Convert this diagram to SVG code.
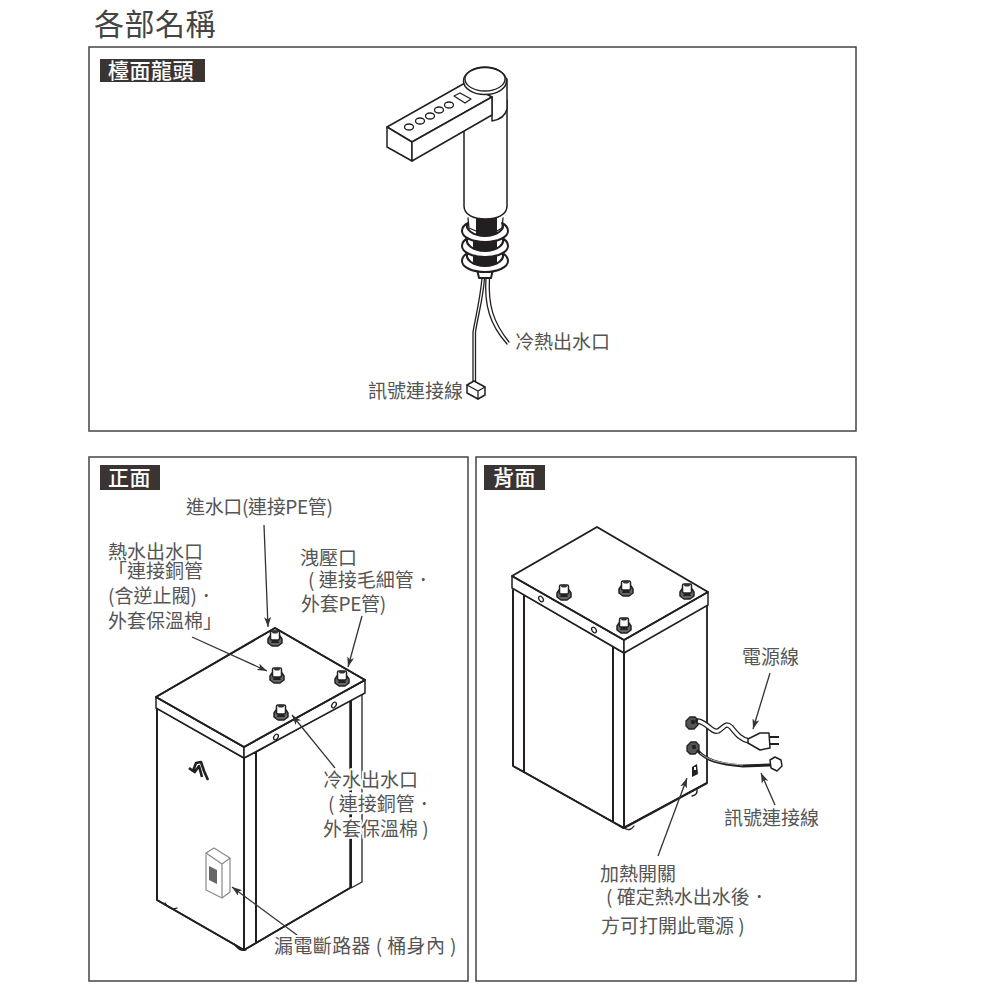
<svg xmlns="http://www.w3.org/2000/svg" xmlns:xlink="http://www.w3.org/1999/xlink" width="1000" height="1000" viewBox="0 0 1000 1000">
<style>
text{font-family:"Noto Sans CJK TC","Noto Sans CJK SC",sans-serif}
.t{font-size:19px;fill:#555}
.h{font-size:19px;fill:#555;paint-order:stroke;stroke:#fff;stroke-width:4px;stroke-linejoin:round}
.tag{font-size:21px;fill:#fff;font-weight:500;letter-spacing:.5px}
.panel{fill:#fff;stroke:#444;stroke-width:1.5}
.k{fill:#fff;stroke:#231f20;stroke-width:1.5;stroke-linejoin:round}
.l{fill:none;stroke:#231f20;stroke-width:1.3;stroke-linejoin:round;stroke-linecap:round}
.b{fill:none;stroke:#231f20;stroke-width:2;stroke-linejoin:round}
.g{fill:#fff;stroke:#888;stroke-width:1.2;stroke-linejoin:round}
.a{stroke:#333;stroke-width:1.3;fill:none;marker-end:url(#ah)}
.d{fill:#fff;stroke:#231f20;stroke-width:2;stroke-linejoin:round}
</style>
<defs>
<marker id="ah" markerWidth="10" markerHeight="7" refX="10" refY="3.500" orient="auto" markerUnits="userSpaceOnUse"><path d="M0 0L10 3.500L0 7L2.500 3.500Z" fill="#333"/></marker>
<g id="fit">
<path d="M-7 1L-5 -2L5 -2L7 1L7 5L3 8L-3 8L-7 5Z" fill="#666" stroke="#222" stroke-width="1.500" stroke-linejoin="round"/>
<path d="M-3 2L3 2L4 5L-4 5Z" fill="#222"/>
<rect x="-4.500" y="-7" width="9" height="9" rx="1.500" fill="#fff" stroke="#222" stroke-width="1.500"/>
<ellipse cx="0" cy="-6" rx="3" ry="1.500" fill="#333"/>
</g>
<g id="grommet">
<path d="M-6 -2L-2 -6L3 -6L6 -3L6 2L2 6L-3 6L-6 3Z" fill="#555" stroke="#222" stroke-width="1.300"/>
<circle cx="1" cy="-1" r="2.200" fill="#222"/>
</g>
<path id="disc" d="M-17 -9C-21 -7 -23 -4 -23 -1C-23 5 -13 10 0 10C13 10 23 5 23 -1C23 -4 21 -7 17 -9C21 -3 12 4 0 4C-12 4 -21 -3 -17 -9Z"/>
</defs>
<text id="title" x="94" y="35" style="font-size:30px;fill:#444;letter-spacing:.5px">各部名稱</text>

<g id="panel-faucet">
<rect class="panel" x="89" y="47" width="767" height="384"/>
<rect x="100" y="59" width="105" height="23" fill="#3a3533"/>
<text class="tag" x="108" y="78">檯面龍頭</text>
</g>
<g id="panel-front">
<rect class="panel" x="89" y="457" width="379" height="524"/>
<rect x="100" y="465" width="60" height="25" fill="#3a3533"/>
<text class="tag" x="108" y="485">正面</text>
</g>
<g id="panel-back">
<rect class="panel" x="476" y="457" width="380" height="524"/>
<rect x="484" y="465" width="61" height="25" fill="#3a3533"/>
<text class="tag" x="493" y="485">背面</text>
</g>

<g id="faucet">
<path class="l" d="M482 278C480 300 476 315 473 332L473 381"/>
<path class="l" d="M484.500 278C483 300 478 315 475.500 332L475.500 381"/>
<path class="l" d="M486 278C484 305 490 325 507 344"/>
<path class="l" d="M489.500 278C488 305 493 322 509 342"/>
<path class="k" d="M467 385L474 381L485 387L485 395L478 399L467 393Z"/>
<path class="l" d="M467 385L478 391L478 399M478 391L485 387"/>
<path d="M477 269L493 269L491 278L479 278Z" class="d"/>
<path d="M473 250L497 250L497 264C491 268 479 268 473 264Z" fill="#231f20"/>
<path d="M473 235L497 235L497 249C491 253 479 253 473 249Z" fill="#231f20"/>
<path d="M476 218L497 218L497 234C492 239 481 239 476 234Z" fill="#231f20"/>
<use xlink:href="#disc" href="#disc" class="d" x="485" y="262"/>
<use xlink:href="#disc" href="#disc" class="d" x="485" y="247"/>
<use xlink:href="#disc" href="#disc" class="d" x="485" y="232"/>
<path class="l" d="M468 218L469 228L476 231M503 218L502 228L497 231"/>
<path class="k" d="M464 125L464 206C464 215 474 219 485.500 219C497 219 507 215 507 206L507 100L464 100Z"/>
<path class="k" d="M465 90L492 97L492 121C498 120 505 117 507 109L507 79L470 79Z"/>
<path class="k" d="M387 127L465 83L492 97L412 142Z"/>
<path class="k" d="M387 127L387 147L412 161L412 142Z"/>
<path class="k" d="M412 142L492 97L492 115L412 161Z"/>
<ellipse class="l" cx="409" cy="127" rx="4.500" ry="3"/>
<ellipse class="l" cx="420" cy="121" rx="4.500" ry="3"/>
<ellipse class="l" cx="430" cy="116" rx="4.500" ry="3"/>
<ellipse class="l" cx="439" cy="110" rx="4.500" ry="3"/>
<ellipse class="l" cx="449" cy="105" rx="4.500" ry="3"/>
<path class="l" d="M454 96L460 93L471 99L465 103Z"/>
<ellipse class="k" cx="485" cy="81" rx="21.500" ry="13.500"/>
<ellipse class="l" cx="485" cy="79" rx="20" ry="12"/>
</g>

<g id="tank-front">
<path class="k" d="M157 708L157 900L244 950L244 758Z"/>
<path class="k" d="M256 752L256 943L350 888L350 700Z"/>
<path class="k" d="M244 758L244 950L256 943L256 752Z"/>
<path class="b" d="M157 708L157 900L244 950L256 943L350 888"/>
<path class="b" d="M244 758L244 950M256 752L256 943M351 700L351 888"/>
<path class="l" d="M351 888L362 882L362 694"/>
<path class="k" d="M156 697L156 708L244 758L244 747Z"/>
<path class="k" d="M244 747L244 758L365 693L365 680Z"/>
<path class="k" d="M156 697L275 628L365 680L244 747Z"/>
<path class="b" d="M156 697L275 628L365 680L244 747Z"/>
<ellipse class="l" cx="276" cy="737" rx="2" ry="3" transform="rotate(35 276 737)"/>
<ellipse class="l" cx="334" cy="705" rx="2" ry="3" transform="rotate(35 334 705)"/>
<path class="l" d="M165 903Q170 911 177 908M234 944Q240 952 246 950"/>
<use xlink:href="#fit" href="#fit" x="275" y="638"/>
<use xlink:href="#fit" href="#fit" x="277" y="675"/>
<use xlink:href="#fit" href="#fit" x="342" y="678"/>
<use xlink:href="#fit" href="#fit" x="281" y="712"/>
<path id="logo" d="M189 768L193 771L196 763L201 762L204 771L208 780M194 773L199 766L202 777" fill="none" stroke="#231f20" stroke-width="2.600" stroke-linejoin="round"/>
<path class="g" d="M206 853L214 848L230 858L230 892L222 898L206 890Z"/>
<path class="g" d="M206 853L222 864L222 898M222 864L230 858"/>
<path d="M209 866L217 870L217 884L209 880Z" fill="#666"/>
</g>

<g id="tank-back">
<path class="k" d="M513 588L513 766L524 772L613 822L623 828L707 783L707 600L624 653Z"/>
<path class="b" d="M524 595L524 772M613 640L613 822M624 653L624 828M513 590L513 766"/>
<path class="l" d="M707 604L707 783"/>
<path class="b" d="M513 766L613 822L624 828L707 783"/>
<path class="k" d="M512 576L512 588L624 653L624 640Z"/>
<path class="k" d="M624 640L624 653L708 605L708 592Z"/>
<path class="b" d="M512 576L597 527L708 592L624 640Z"/>
<ellipse class="l" cx="541" cy="599" rx="2" ry="3" transform="rotate(-35 541 599)"/>
<ellipse class="l" cx="594" cy="630" rx="2" ry="3" transform="rotate(-35 594 630)"/>
<path class="l" d="M624 828Q630 832 634 826M697 789Q698 795 692 796"/>
<use xlink:href="#fit" href="#fit" x="564" y="592"/>
<use xlink:href="#fit" href="#fit" x="626" y="588"/>
<use xlink:href="#fit" href="#fit" x="687" y="591"/>
<use xlink:href="#fit" href="#fit" x="624" y="625"/>
<use xlink:href="#grommet" href="#grommet" x="692" y="723"/>
<use xlink:href="#grommet" href="#grommet" x="693" y="748"/>
<path d="M698 721C708 723 712 733 718 731C724 728 725 722 731 727C736 733 740 739 749 741" fill="none" stroke="#231f20" stroke-width="5.500" stroke-linecap="round"/>
<path d="M698 721C708 723 712 733 718 731C724 728 725 722 731 727C736 733 740 739 749 741" fill="none" stroke="#fff" stroke-width="3"/>
<path class="k" d="M748 739L760 733L769 733L770 748L760 750L748 743Z"/>
<path class="b" d="M770 737L779 737M770 744L779 744"/>
<path d="M698 751C706 760 718 764 743 766L770 765" fill="none" stroke="#231f20" stroke-width="3" stroke-linecap="round"/>
<path d="M700 753C708 760 718 763 743 765" fill="none" stroke="#bbb" stroke-width="1"/>
<path class="k" d="M770 760L775 757L781 760L782 766L777 771L771 768Z"/>
<path d="M692 767L697 764L698 774L692 777Z" fill="#231f20"/>
<rect x="694" y="767" width="2" height="3" fill="#fff"/>
</g>

<g id="connectors">
<path class="a" d="M264 525L268 627"/>
<path class="a" d="M192 637L267 671"/>
<path class="a" d="M362 616L348 667"/>
<path class="a" d="M335 768L292 715"/>
<path class="a" d="M297 935L232 887"/>
<path class="a" d="M770 673L753 729"/>
<path class="a" d="M775 805L761 773"/>
<path class="a" d="M658 856L687 778"/>
</g>

<g id="labels">
<text class="t" x="515" y="349">冷熱出水口</text>
<text class="t" x="368" y="398">訊號連接線</text>
<text class="t" x="186" y="514" style="letter-spacing:-.35px">進水口(連接PE管)</text>
<text class="t" x="108" y="559">熱水出水口</text>
<text class="t" x="108" y="578">「連接銅管</text>
<text class="t" x="108" y="603">(含逆止閥)．</text>
<text class="t" x="108" y="628">外套保溫棉」</text>
<text class="t" x="300" y="565">洩壓口</text>
<text class="t" x="308" y="587">( 連接毛細管．</text>
<text class="t" x="301" y="611" style="letter-spacing:-.3px">外套PE管)</text>
<text class="h" x="323" y="787">冷水出水口</text>
<text class="h" x="328" y="811">( 連接銅管．</text>
<text class="h" x="323" y="836">外套保溫棉 )</text>
<text class="h" x="274" y="953" style="letter-spacing:.4px">漏電斷路器 ( 桶身內 )</text>
<text class="t" x="742" y="664">電源線</text>
<text class="t" x="724" y="825">訊號連接線</text>
<text class="t" x="600" y="881">加熱開關</text>
<text class="t" x="606" y="904">( 確定熱水出水後．</text>
<text class="t" x="601" y="933">方可打開此電源 )</text>
</g>
</svg>
